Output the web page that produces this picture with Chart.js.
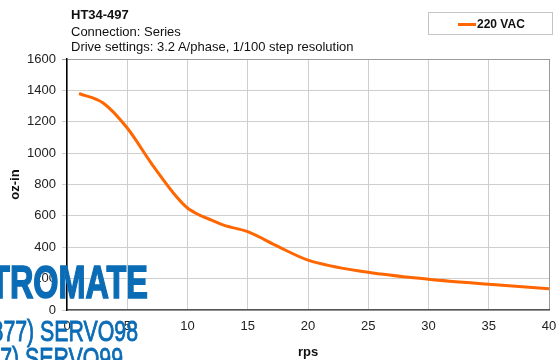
<!DOCTYPE html>
<html>
<head>
<meta charset="utf-8">
<script src="https://cdn.jsdelivr.net/npm/chart.js@4"></script>
<style>
  html, body { margin: 0; padding: 0; background: #fff; overflow: hidden; }
  body { width: 556px; height: 360px; position: relative; font-family: "Liberation Sans", Arial, sans-serif; }
  #wrap { position: absolute; left: 0; top: 0; width: 556px; height: 360px; }
  .head { position: absolute; left: 71px; font-size: 13px; line-height: 15px; color: #111; white-space: nowrap; }
  #legend { position: absolute; left: 428px; top: 12px; width: 125px; height: 23px; border: 1px solid #c4c4c4; box-sizing: border-box; }
  #legend .swatch { position: absolute; left: 29px; top: 10px; width: 18px; height: 3px; background: #ff6600; }
  #legend .txt { position: absolute; left: 48px; top: 4px; font-size: 12px; font-weight: bold; line-height: 14px; color: #111; }
  .wm { position: absolute; white-space: nowrap; color: #0b6cb6; text-align: right; transform-origin: right center; z-index: 5; }
</style>
</head>
<body>
<div id="wrap"><canvas id="torqueChart" width="556" height="360"></canvas></div>
<div class="head" style="top:7px;font-weight:bold;">HT34-497</div>
<div class="head" style="top:24px;">Connection: Series</div>
<div class="head" style="top:39px;">Drive settings: 3.2 A/phase, 1/100 step resolution</div>
<div id="legend"><div class="swatch"></div><div class="txt">220 VAC</div></div>
<div class="wm" style="left:-300px;width:448px;top:257px;font-size:47px;line-height:50px;font-weight:bold;-webkit-text-stroke:1.6px #0b6cb6;transform:scaleX(0.69);">ELECTROMATE</div>
<div class="wm" style="left:-300px;width:438px;top:314px;font-size:30px;line-height:34px;-webkit-text-stroke:0.9px #0b6cb6;transform:scaleX(0.71);">(877) SERVO98</div>
<div class="wm" style="left:-300px;width:423px;top:341px;font-size:30px;line-height:34px;-webkit-text-stroke:0.9px #0b6cb6;transform:scaleX(0.71);">(877) SERVO99</div>
<script>
const speedRps = [1, 3, 5, 7, 9, 10, 11, 12, 13, 15, 17.5, 20, 25, 30, 35, 40];
const torqueOzIn = [1380, 1320, 1160, 935, 730, 650, 605, 573, 541, 499, 405, 318, 240, 196, 164, 136];
const seriesLabel = '220 VAC';

const points = speedRps.map((x, i) => ({ x, y: torqueOzIn[i] }));

Chart.defaults.font.family = '"Liberation Sans", Arial, sans-serif';
Chart.defaults.color = '#222';

new Chart(document.getElementById('torqueChart').getContext('2d'), {
  type: 'line',
  data: {
    datasets: [{
      label: seriesLabel,
      data: points,
      borderColor: '#ff6600',
      borderWidth: 3,
      pointRadius: 0,
      fill: false,
      cubicInterpolationMode: 'monotone'
    }]
  },
  options: {
    responsive: false,
    animation: false,
    layout: { padding: { top: 59, right: 7, left: 0, bottom: 0 } },
    plugins: {
      legend: { display: false },
      tooltip: { enabled: false }
    },
    scales: {
      x: {
        type: 'linear',
        min: 0,
        max: 40,
        ticks: { stepSize: 5, padding: 9, font: { size: 13 }, maxRotation: 0, callback: v => String(v) },
        grid: {
          color: ctx => ctx.tick && ctx.tick.value === 40 ? '#9a9a9a' : '#cfcfcf',
          tickLength: 0
        },
        border: { color: '#555', width: 1.5 },
        title: { display: true, text: 'rps', font: { size: 13, weight: 'bold' }, color: '#111', padding: { top: 0, bottom: 0 } },
        afterFit: s => { s.height = 50; s.paddingLeft = 0; s.paddingRight = 0; }
      },
      y: {
        min: 0,
        max: 1600,
        ticks: { stepSize: 200, padding: 6, font: { size: 13 }, callback: v => String(v) },
        grid: {
          color: ctx => ctx.tick && ctx.tick.value === 1600 ? '#9a9a9a' : '#cfcfcf',
          tickLength: 5
        },
        border: { color: '#000', width: 1.5 },
        title: { display: true, text: 'oz-in', font: { size: 13, weight: 'bold' }, color: '#111', padding: { top: 8, bottom: 0 } },
        afterFit: s => { s.width = 67; }
      }
    }
  }
});
</script>
</body>
</html>
